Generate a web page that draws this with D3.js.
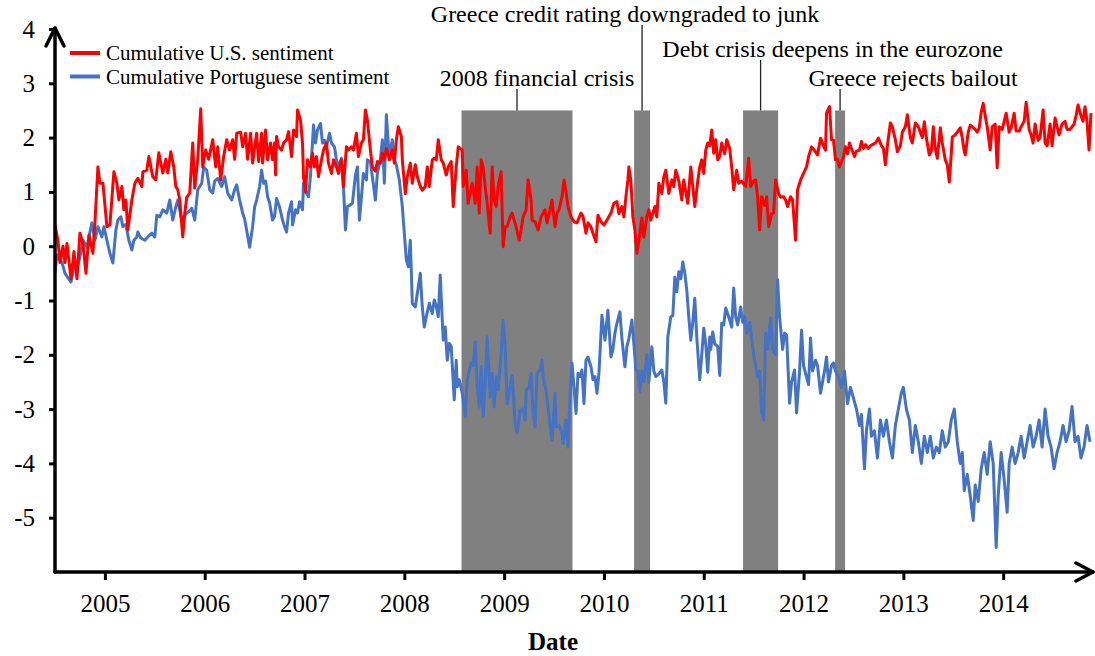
<!DOCTYPE html>
<html><head><meta charset="utf-8">
<script src="https://cdn.jsdelivr.net/npm/d3@7"></script>
<style>
body{margin:0;background:#fff}
svg{display:block}
text{font-family:"Liberation Serif","Times New Roman",serif;fill:#000}
</style>
</head><body>
<svg id="chart" width="1095" height="656"></svg>
<script>
// ---------------- data ----------------
const yearTicks = [2005,2006,2007,2008,2009,2010,2011,2012,2013,2014];
const valueTicks = [-5,-4,-3,-2,-1,0,1,2,3,4];
const seriesNames = ["Cumulative U.S. sentiment","Cumulative Portuguese sentiment"];

// [decimal year, value]
const usSeries = [[2004.50,0.39],[2004.53,0.10],[2004.55,-0.30],[2004.58,0.00],[2004.60,-0.30],[2004.62,0.05],[2004.66,-0.60],[2004.69,-0.10],[2004.72,-0.60],[2004.75,0.24],[2004.78,0.05],[2004.81,-0.50],[2004.84,0.20],[2004.88,-0.13],[2004.90,0.43],[2004.93,1.46],[2004.95,1.16],[2004.98,1.16],[2005.02,0.36],[2005.05,0.39],[2005.09,1.37],[2005.12,1.16],[2005.14,0.85],[2005.17,1.10],[2005.19,0.67],[2005.21,0.85],[2005.23,0.30],[2005.27,0.85],[2005.30,1.16],[2005.33,1.25],[2005.37,1.10],[2005.38,1.37],[2005.42,1.40],[2005.44,1.65],[2005.48,1.28],[2005.51,1.22],[2005.54,1.72],[2005.58,1.35],[2005.61,1.60],[2005.63,1.35],[2005.66,1.74],[2005.69,1.46],[2005.71,1.10],[2005.73,1.04],[2005.75,0.85],[2005.78,0.17],[2005.80,0.61],[2005.82,0.90],[2005.85,0.98],[2005.88,1.90],[2005.90,1.07],[2005.93,1.60],[2005.96,2.53],[2005.98,1.46],[2006.01,1.77],[2006.04,1.60],[2006.08,1.96],[2006.11,1.46],[2006.13,1.83],[2006.16,1.22],[2006.19,1.65],[2006.22,1.96],[2006.25,1.77],[2006.28,1.96],[2006.30,1.60],[2006.32,2.08],[2006.36,2.10],[2006.38,1.83],[2006.41,2.08],[2006.43,1.60],[2006.46,2.08],[2006.48,1.53],[2006.52,2.08],[2006.54,1.56],[2006.57,2.08],[2006.58,1.53],[2006.61,2.14],[2006.63,1.59],[2006.66,1.90],[2006.68,1.59],[2006.70,1.90],[2006.71,1.31],[2006.72,2.02],[2006.74,1.83],[2006.77,1.77],[2006.79,1.90],[2006.82,1.96],[2006.84,2.11],[2006.87,1.65],[2006.89,2.14],[2006.92,2.02],[2006.93,2.51],[2006.96,2.32],[2006.98,1.90],[2006.99,1.28],[2007.01,1.00],[2007.03,1.59],[2007.06,1.46],[2007.08,1.71],[2007.10,1.46],[2007.12,1.65],[2007.14,1.28],[2007.17,1.59],[2007.19,1.77],[2007.22,1.90],[2007.24,1.53],[2007.27,1.34],[2007.29,1.59],[2007.32,1.46],[2007.34,1.34],[2007.37,1.59],[2007.39,1.10],[2007.42,1.83],[2007.44,1.77],[2007.47,1.83],[2007.49,1.77],[2007.52,2.08],[2007.54,1.65],[2007.57,1.90],[2007.59,1.96],[2007.61,2.51],[2007.63,2.32],[2007.66,1.77],[2007.68,1.46],[2007.71,1.38],[2007.73,1.56],[2007.76,1.53],[2007.78,1.71],[2007.80,1.59],[2007.82,1.80],[2007.85,1.59],[2007.88,1.77],[2007.90,1.53],[2007.92,1.96],[2007.94,2.20],[2007.97,2.02],[2007.98,1.59],[2008.01,0.97],[2008.03,1.28],[2008.06,1.53],[2008.08,1.16],[2008.11,1.50],[2008.13,1.28],[2008.16,1.10],[2008.18,1.03],[2008.21,1.10],[2008.23,1.46],[2008.25,1.10],[2008.28,1.59],[2008.30,1.62],[2008.32,1.59],[2008.34,1.96],[2008.37,1.59],[2008.39,1.53],[2008.42,1.31],[2008.44,1.46],[2008.47,1.56],[2008.49,0.73],[2008.52,1.46],[2008.54,1.83],[2008.58,1.77],[2008.59,1.10],[2008.62,1.40],[2008.64,0.79],[2008.68,1.16],[2008.71,0.79],[2008.73,1.46],[2008.75,0.61],[2008.77,1.59],[2008.79,1.46],[2008.81,1.10],[2008.83,0.79],[2008.86,0.24],[2008.88,1.46],[2008.90,0.85],[2008.92,0.73],[2008.94,1.10],[2008.97,1.37],[2008.99,-0.01],[2009.01,0.36],[2009.03,0.36],[2009.06,0.54],[2009.08,0.61],[2009.12,0.36],[2009.15,0.11],[2009.17,0.30],[2009.19,0.54],[2009.22,0.67],[2009.24,1.22],[2009.27,0.85],[2009.28,0.48],[2009.31,0.45],[2009.34,0.30],[2009.37,0.54],[2009.41,0.67],[2009.43,0.43],[2009.46,0.67],[2009.48,0.85],[2009.51,0.36],[2009.53,0.61],[2009.55,0.67],[2009.58,0.91],[2009.60,1.22],[2009.62,1.00],[2009.64,0.73],[2009.67,0.54],[2009.70,0.45],[2009.73,0.43],[2009.77,0.61],[2009.79,0.55],[2009.82,0.24],[2009.84,0.43],[2009.87,0.35],[2009.89,0.24],[2009.92,0.08],[2009.94,0.57],[2009.97,0.45],[2010.00,0.39],[2010.03,0.48],[2010.07,0.61],[2010.10,0.79],[2010.13,0.82],[2010.15,0.60],[2010.18,0.73],[2010.20,0.54],[2010.22,0.91],[2010.24,1.22],[2010.25,1.46],[2010.27,1.20],[2010.29,0.54],[2010.31,0.30],[2010.33,-0.13],[2010.35,0.10],[2010.38,0.52],[2010.40,0.17],[2010.43,0.55],[2010.45,0.67],[2010.47,0.48],[2010.51,0.73],[2010.53,0.54],[2010.55,1.16],[2010.58,0.97],[2010.60,1.28],[2010.62,1.40],[2010.65,0.97],[2010.68,1.22],[2010.70,1.10],[2010.72,1.40],[2010.75,1.20],[2010.78,0.85],[2010.80,1.22],[2010.82,1.00],[2010.84,0.79],[2010.87,1.46],[2010.89,1.10],[2010.91,0.73],[2010.94,1.20],[2010.96,1.46],[2010.98,1.59],[2011.00,1.34],[2011.02,1.77],[2011.04,1.90],[2011.06,1.85],[2011.08,2.14],[2011.10,1.71],[2011.12,1.96],[2011.14,1.59],[2011.16,1.65],[2011.18,1.90],[2011.21,1.70],[2011.23,1.96],[2011.26,1.80],[2011.28,1.46],[2011.30,1.04],[2011.33,1.40],[2011.35,1.16],[2011.38,1.20],[2011.40,1.15],[2011.42,1.10],[2011.45,1.62],[2011.47,1.10],[2011.50,1.20],[2011.52,1.22],[2011.54,0.90],[2011.56,0.30],[2011.58,0.91],[2011.61,0.75],[2011.63,0.91],[2011.65,0.36],[2011.68,0.60],[2011.70,0.61],[2011.72,1.22],[2011.75,0.97],[2011.77,0.90],[2011.80,0.91],[2011.82,0.85],[2011.84,0.73],[2011.87,0.91],[2011.89,0.85],[2011.92,0.11],[2011.94,1.04],[2011.97,1.22],[2012.00,1.34],[2012.03,1.46],[2012.05,1.65],[2012.08,1.83],[2012.12,1.74],[2012.14,1.68],[2012.17,1.99],[2012.20,1.85],[2012.22,1.77],[2012.23,2.45],[2012.26,2.57],[2012.28,1.96],[2012.30,1.95],[2012.32,1.59],[2012.34,1.60],[2012.36,1.46],[2012.38,1.55],[2012.40,1.65],[2012.42,1.83],[2012.44,1.70],[2012.46,1.90],[2012.48,1.80],[2012.51,1.65],[2012.53,1.75],[2012.56,1.77],[2012.58,1.93],[2012.60,1.80],[2012.62,1.87],[2012.65,1.80],[2012.67,1.85],[2012.69,1.87],[2012.72,1.90],[2012.75,1.99],[2012.78,1.85],[2012.80,1.80],[2012.82,1.50],[2012.84,1.85],[2012.87,2.27],[2012.89,2.20],[2012.92,1.96],[2012.94,1.74],[2012.97,1.85],[2012.99,2.10],[2013.02,2.20],[2013.04,2.42],[2013.07,2.00],[2013.09,1.90],[2013.12,2.27],[2013.15,2.20],[2013.17,2.10],[2013.19,2.00],[2013.21,2.29],[2013.23,2.00],[2013.26,1.68],[2013.28,1.75],[2013.30,2.20],[2013.32,1.80],[2013.34,1.62],[2013.37,2.18],[2013.39,1.90],[2013.42,1.59],[2013.44,1.50],[2013.46,1.18],[2013.48,1.70],[2013.49,2.01],[2013.52,2.05],[2013.54,2.10],[2013.57,2.18],[2013.59,2.00],[2013.61,1.75],[2013.62,1.68],[2013.65,2.10],[2013.67,2.23],[2013.69,2.20],[2013.72,2.15],[2013.74,2.10],[2013.76,2.18],[2013.78,2.47],[2013.80,2.63],[2013.82,2.40],[2013.84,2.20],[2013.87,1.77],[2013.89,2.20],[2013.92,2.25],[2013.94,1.44],[2013.96,2.20],[2013.99,2.15],[2014.01,2.30],[2014.03,2.45],[2014.06,2.10],[2014.08,2.18],[2014.11,2.45],[2014.13,2.12],[2014.16,2.12],[2014.18,2.20],[2014.21,2.30],[2014.23,2.65],[2014.26,2.15],[2014.28,2.05],[2014.30,1.90],[2014.32,2.25],[2014.35,1.95],[2014.37,2.00],[2014.40,2.51],[2014.42,1.90],[2014.44,1.85],[2014.47,2.25],[2014.49,1.85],[2014.52,2.36],[2014.54,2.20],[2014.56,2.05],[2014.59,2.25],[2014.62,2.30],[2014.64,2.15],[2014.67,2.15],[2014.69,2.20],[2014.71,2.25],[2014.73,2.40],[2014.75,2.60],[2014.78,2.40],[2014.80,2.30],[2014.82,2.57],[2014.84,2.30],[2014.86,1.77],[2014.88,2.45]];

const ptSeries = [[2004.50,-0.48],[2004.52,-0.16],[2004.55,-0.25],[2004.57,-0.30],[2004.60,-0.50],[2004.66,-0.66],[2004.70,-0.30],[2004.73,-0.35],[2004.75,-0.20],[2004.78,0.11],[2004.82,-0.02],[2004.84,0.17],[2004.87,0.43],[2004.90,0.11],[2004.93,0.36],[2004.97,0.17],[2004.99,0.36],[2005.02,0.11],[2005.05,-0.13],[2005.08,-0.31],[2005.11,0.30],[2005.13,0.48],[2005.16,0.54],[2005.18,0.36],[2005.21,0.40],[2005.24,0.11],[2005.27,-0.07],[2005.29,0.11],[2005.32,0.17],[2005.33,0.26],[2005.36,0.15],[2005.40,0.11],[2005.43,0.17],[2005.47,0.24],[2005.50,0.17],[2005.52,0.57],[2005.55,0.54],[2005.58,0.67],[2005.62,0.61],[2005.65,0.85],[2005.68,0.48],[2005.71,0.72],[2005.73,0.85],[2005.77,0.48],[2005.79,0.54],[2005.82,0.61],[2005.85,0.65],[2005.87,0.70],[2005.90,0.48],[2005.93,1.04],[2005.97,1.16],[2005.99,1.46],[2006.02,1.40],[2006.05,1.04],[2006.08,0.98],[2006.10,1.20],[2006.13,1.25],[2006.17,1.10],[2006.20,1.28],[2006.23,0.98],[2006.27,0.85],[2006.30,1.04],[2006.32,1.13],[2006.35,0.85],[2006.38,0.61],[2006.40,0.50],[2006.42,0.30],[2006.45,-0.02],[2006.48,0.36],[2006.50,0.72],[2006.52,0.85],[2006.55,1.10],[2006.57,1.40],[2006.59,1.16],[2006.61,1.20],[2006.63,0.91],[2006.65,0.80],[2006.68,0.48],[2006.70,0.55],[2006.72,0.88],[2006.75,0.72],[2006.78,0.48],[2006.80,0.36],[2006.82,0.26],[2006.84,0.61],[2006.87,0.82],[2006.88,0.39],[2006.91,0.67],[2006.93,0.61],[2006.95,0.82],[2006.98,0.67],[2006.99,1.16],[2007.02,0.97],[2007.04,0.91],[2007.06,1.30],[2007.09,2.23],[2007.11,1.90],[2007.13,2.14],[2007.16,2.26],[2007.18,1.90],[2007.20,1.95],[2007.22,1.83],[2007.25,2.08],[2007.27,1.90],[2007.30,1.83],[2007.32,1.59],[2007.34,1.46],[2007.37,1.62],[2007.39,1.10],[2007.41,0.30],[2007.43,0.73],[2007.45,0.75],[2007.48,0.79],[2007.51,1.31],[2007.53,1.46],[2007.55,0.48],[2007.57,0.90],[2007.59,1.34],[2007.62,1.22],[2007.63,1.59],[2007.66,1.55],[2007.68,1.28],[2007.71,0.85],[2007.73,1.34],[2007.76,1.59],[2007.78,1.96],[2007.80,1.16],[2007.82,2.42],[2007.85,1.62],[2007.88,1.96],[2007.90,1.59],[2007.92,1.50],[2007.95,1.22],[2007.98,0.73],[2008.00,0.24],[2008.02,-0.25],[2008.04,-0.38],[2008.06,0.11],[2008.08,-1.05],[2008.11,-1.12],[2008.13,-0.87],[2008.16,-0.50],[2008.18,-1.12],[2008.20,-1.49],[2008.22,-1.30],[2008.25,-1.05],[2008.28,-1.24],[2008.30,-0.99],[2008.32,-1.10],[2008.34,-1.30],[2008.36,-0.53],[2008.38,-1.36],[2008.39,-1.73],[2008.41,-1.49],[2008.43,-2.10],[2008.45,-1.79],[2008.47,-1.85],[2008.50,-2.83],[2008.52,-2.10],[2008.53,-2.59],[2008.55,-2.46],[2008.58,-2.70],[2008.61,-3.14],[2008.63,-2.46],[2008.67,-2.15],[2008.69,-2.20],[2008.71,-1.76],[2008.73,-2.59],[2008.75,-2.96],[2008.77,-2.22],[2008.79,-3.14],[2008.81,-2.50],[2008.83,-1.67],[2008.86,-2.78],[2008.88,-2.34],[2008.90,-2.96],[2008.92,-2.41],[2008.94,-2.65],[2008.97,-1.97],[2008.99,-1.36],[2009.01,-1.85],[2009.03,-2.90],[2009.06,-2.60],[2009.08,-2.38],[2009.11,-3.26],[2009.13,-3.44],[2009.16,-3.02],[2009.19,-3.00],[2009.21,-3.20],[2009.22,-2.65],[2009.25,-2.60],[2009.27,-2.34],[2009.29,-3.08],[2009.31,-3.33],[2009.33,-2.34],[2009.36,-2.28],[2009.38,-2.10],[2009.39,-2.41],[2009.42,-2.65],[2009.45,-3.14],[2009.47,-3.44],[2009.48,-3.57],[2009.51,-2.71],[2009.52,-3.33],[2009.55,-3.30],[2009.58,-3.44],[2009.59,-3.63],[2009.62,-3.20],[2009.64,-3.70],[2009.66,-2.78],[2009.68,-2.15],[2009.70,-2.60],[2009.72,-3.08],[2009.74,-2.34],[2009.76,-2.40],[2009.78,-2.28],[2009.80,-2.90],[2009.82,-2.10],[2009.84,-2.04],[2009.87,-2.22],[2009.89,-2.46],[2009.91,-2.40],[2009.93,-2.71],[2009.95,-2.34],[2009.98,-1.27],[2010.01,-1.73],[2010.04,-1.18],[2010.07,-2.04],[2010.09,-1.90],[2010.11,-1.60],[2010.13,-1.42],[2010.16,-1.21],[2010.18,-1.70],[2010.21,-2.22],[2010.23,-1.85],[2010.25,-1.70],[2010.28,-1.36],[2010.30,-1.80],[2010.32,-2.28],[2010.34,-2.30],[2010.36,-2.68],[2010.38,-2.30],[2010.40,-2.50],[2010.43,-2.00],[2010.45,-2.50],[2010.48,-1.85],[2010.50,-2.30],[2010.52,-2.40],[2010.55,-2.35],[2010.58,-2.28],[2010.60,-2.50],[2010.62,-2.89],[2010.64,-1.67],[2010.67,-1.30],[2010.69,-1.28],[2010.71,-0.57],[2010.73,-0.84],[2010.75,-0.47],[2010.77,-0.60],[2010.79,-0.29],[2010.81,-0.49],[2010.83,-0.81],[2010.85,-1.30],[2010.87,-1.73],[2010.89,-1.40],[2010.91,-0.96],[2010.93,-1.67],[2010.96,-2.46],[2010.98,-2.00],[2011.00,-1.51],[2011.02,-1.80],[2011.04,-2.32],[2011.06,-1.67],[2011.07,-1.90],[2011.09,-1.58],[2011.11,-1.80],[2011.14,-1.85],[2011.16,-2.38],[2011.18,-1.42],[2011.20,-1.45],[2011.22,-1.14],[2011.25,-1.30],[2011.28,-1.49],[2011.30,-0.77],[2011.32,-1.30],[2011.34,-1.45],[2011.37,-1.12],[2011.39,-1.40],[2011.41,-1.30],[2011.43,-1.60],[2011.46,-1.40],[2011.48,-1.70],[2011.50,-2.00],[2011.52,-2.20],[2011.54,-2.41],[2011.56,-2.30],[2011.58,-3.07],[2011.60,-3.20],[2011.62,-1.60],[2011.64,-1.90],[2011.67,-1.32],[2011.69,-1.90],[2011.72,-2.00],[2011.74,-0.62],[2011.76,-1.30],[2011.79,-1.90],[2011.81,-1.60],[2011.83,-1.64],[2011.86,-2.89],[2011.88,-2.50],[2011.91,-2.28],[2011.93,-3.07],[2011.96,-2.30],[2011.98,-1.55],[2012.00,-2.20],[2012.02,-2.34],[2012.05,-2.55],[2012.07,-1.69],[2012.09,-2.30],[2012.12,-2.10],[2012.14,-2.20],[2012.17,-2.71],[2012.19,-2.50],[2012.21,-2.30],[2012.23,-2.04],[2012.25,-2.50],[2012.28,-2.20],[2012.30,-2.15],[2012.32,-2.30],[2012.35,-2.40],[2012.38,-2.60],[2012.41,-2.30],[2012.44,-2.90],[2012.47,-2.60],[2012.50,-2.80],[2012.53,-3.00],[2012.56,-3.30],[2012.58,-3.10],[2012.61,-4.10],[2012.63,-3.40],[2012.66,-3.00],[2012.68,-3.50],[2012.71,-3.40],[2012.74,-3.90],[2012.77,-3.20],[2012.80,-3.50],[2012.83,-3.20],[2012.86,-3.60],[2012.89,-3.90],[2012.92,-3.30],[2012.95,-3.00],[2012.98,-2.70],[2013.00,-2.60],[2013.03,-3.00],[2013.06,-3.20],[2013.09,-3.80],[2013.12,-3.30],[2013.15,-3.60],[2013.18,-4.00],[2013.21,-3.50],[2013.24,-3.80],[2013.27,-3.50],[2013.30,-3.90],[2013.33,-3.70],[2013.36,-3.80],[2013.39,-3.40],[2013.42,-3.70],[2013.45,-3.60],[2013.48,-3.20],[2013.51,-3.00],[2013.54,-3.60],[2013.57,-4.00],[2013.59,-3.80],[2013.61,-4.50],[2013.64,-4.20],[2013.67,-4.60],[2013.70,-5.05],[2013.72,-4.40],[2013.75,-4.70],[2013.78,-4.10],[2013.81,-3.80],[2013.84,-4.20],[2013.87,-3.60],[2013.90,-4.00],[2013.93,-5.55],[2013.95,-4.60],[2013.98,-3.80],[2014.01,-4.30],[2014.04,-4.90],[2014.06,-4.00],[2014.09,-3.70],[2014.12,-4.00],[2014.15,-3.80],[2014.18,-3.50],[2014.21,-3.90],[2014.24,-3.60],[2014.27,-3.30],[2014.30,-3.70],[2014.33,-3.50],[2014.36,-3.20],[2014.39,-3.70],[2014.42,-3.00],[2014.45,-3.50],[2014.48,-3.70],[2014.51,-4.10],[2014.54,-3.80],[2014.57,-3.60],[2014.60,-3.30],[2014.63,-3.60],[2014.66,-3.40],[2014.69,-2.95],[2014.72,-3.60],[2014.75,-3.50],[2014.78,-3.90],[2014.81,-3.70],[2014.84,-3.30],[2014.87,-3.60]];

const eventLabels = ["2008 financial crisis","Greece credit rating downgraded to junk","Debt crisis deepens in the eurozone","Greece rejects bailout"];
const eventStarts = [2008.573, 2010.302, 2011.394, 2012.316];
const eventEnds   = [2009.685, 2010.462, 2011.745, 2012.416];
const shadeTop = 2.5;

// ---------------- layout ----------------
const W = 1095, H = 656;
const SERIF = '"Liberation Serif","Times New Roman",serif';
const svg = d3.select("#chart");
svg.append("rect").attr("width",W).attr("height",H).attr("fill","#fff");

const x = d3.scaleLinear().domain([2004.5, 2014.9]).range([55, 1093]);
const y = d3.scaleLinear().domain([-6, 4]).range([572, 29]);

// shaded event bars
const ev = eventLabels.map((l,i)=>({label:l, s:eventStarts[i], e:eventEnds[i]}));
svg.append("g").selectAll("rect").data(ev).join("rect")
  .attr("x", d=>x(d.s)).attr("width", d=>x(d.e)-x(d.s))
  .attr("y", y(shadeTop)).attr("height", y(-6)-y(shadeTop))
  .attr("fill","#808080");

// annotation labels: [text centre offset from bar centre, baseline y]
const labelPos = [[20, 86],[-17, 22],[72, 57],[73, 86]];
const ann = svg.append("g");
ev.forEach((d,i)=>{
  const cx = (x(d.s)+x(d.e))/2;
  const by = labelPos[i][1];
  ann.append("line").attr("x1",cx).attr("x2",cx).attr("y1",by+3).attr("y2",y(shadeTop))
     .attr("stroke","#222").attr("stroke-width",1.3);
  ann.append("text").attr("x",cx+labelPos[i][0]).attr("y",by)
     .attr("text-anchor","middle").attr("font-size",24).style("font-family",SERIF).text(d.label);
});

// lines
const line = d3.line().x(d=>x(d[0])).y(d=>y(d[1]));
svg.append("path").datum(ptSeries).attr("d",line)
  .attr("fill","none").attr("stroke","#4472C4").attr("stroke-width",3).attr("stroke-linejoin","round");
svg.append("path").datum(usSeries).attr("d",line)
  .attr("fill","none").attr("stroke","#FF0000").attr("stroke-width",3).attr("stroke-linejoin","round");

// axes
const fmt = d => String(d);
const yAxis = d3.axisLeft(y).tickValues(valueTicks).tickSize(6).tickPadding(14).tickFormat(fmt);
const gy = svg.append("g").attr("transform","translate(55,0)").call(yAxis);
gy.attr("font-family",null).attr("font-size",null);
gy.select(".domain").remove();
gy.selectAll(".tick line").attr("stroke","#000").attr("stroke-width",3);
gy.selectAll(".tick text").style("font-size","25px").style("font-family",SERIF).attr("fill","#000");

const xAxis = d3.axisBottom(x).tickValues(yearTicks).tickSize(8).tickPadding(14).tickFormat(fmt);
const gx = svg.append("g").attr("transform","translate(0,572)").call(xAxis);
gx.attr("font-family",null).attr("font-size",null);
gx.select(".domain").remove();
gx.selectAll(".tick line").attr("stroke","#000").attr("stroke-width",3);
gx.selectAll(".tick text").style("font-size","25px").style("font-family",SERIF).attr("fill","#000");

// axis lines with arrow heads
const axisG = svg.append("g").attr("stroke","#000").attr("stroke-width",3.5).attr("fill","none").attr("stroke-linecap","round").attr("stroke-linejoin","round");
axisG.append("path").attr("d",`M55,${y(-6)}V${y(4)-1}`);
axisG.append("path").attr("d",`M46,${y(4)+17}L55,${y(4)-1}L64,${y(4)+17}`);
axisG.append("path").attr("d",`M55,${y(-6)}H${x(2014.9)}`);
axisG.append("path").attr("d",`M${x(2014.9)-17},${y(-6)-9}L${x(2014.9)},${y(-6)}L${x(2014.9)-17},${y(-6)+9}`);

// x title
svg.append("text").attr("x",553).attr("y",650).attr("text-anchor","middle")
  .attr("font-size",25).attr("font-weight","bold").style("font-family",SERIF).text("Date");

// legend
const legendColors = ["#FF0000","#4472C4"];
const lg = svg.append("g");
seriesNames.forEach((n,i)=>{
  const ly = 53 + i*23.5;
  lg.append("line").attr("x1",70).attr("x2",100).attr("y1",ly).attr("y2",ly)
    .attr("stroke",legendColors[i]).attr("stroke-width",4);
  lg.append("text").attr("x",106).attr("y",ly+7).attr("font-size",21).style("font-family",SERIF).text(n);
});
</script>
</body></html>
